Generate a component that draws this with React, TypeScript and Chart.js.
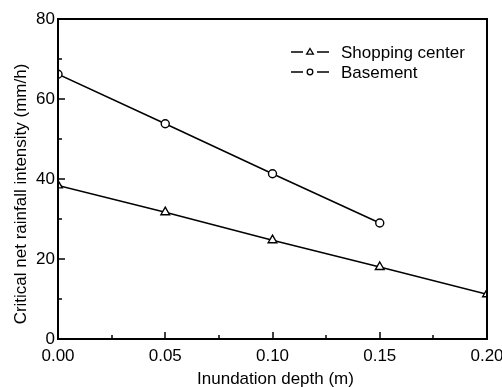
import React, { useEffect, useRef } from "react";
import { Chart, registerables } from "chart.js";

Chart.register(...registerables);

const depths = [0, 0.05, 0.1, 0.15, 0.2];
const shoppingCenter = [38.4, 31.7, 24.7, 18.0, 11.2];
const basement = [66.2, 53.8, 41.3, 29.0];
const seriesNames = ["Shopping center", "Basement"];
const xTitle = "Inundation depth (m)";
const yTitle = "Critical net rainfall intensity (mm/h)";

const FONT = "'Liberation Sans', Arial, sans-serif";

const framePlugin = {
  id: "frame",
  afterDraw(chart: any) {
    const { ctx, chartArea: a, scales } = chart;
    const x = scales.x;
    const y = scales.y;
    ctx.save();
    ctx.strokeStyle = "#000";
    ctx.lineWidth = 2;
    ctx.strokeRect(a.left, a.top, a.right - a.left, a.bottom - a.top);
    ctx.lineWidth = 1.5;
    for (let v = 0; v <= 80; v += 10) {
      const py = Math.round(y.getPixelForValue(v));
      const len = v % 20 === 0 ? 7 : 4;
      ctx.beginPath();
      ctx.moveTo(a.left, py);
      ctx.lineTo(a.left + len, py);
      ctx.stroke();
    }
    for (let i = 0; i <= 8; i++) {
      const v = i * 0.025;
      const px = Math.round(x.getPixelForValue(v));
      const len = i % 2 === 0 ? 7 : 4;
      ctx.beginPath();
      ctx.moveTo(px, a.bottom);
      ctx.lineTo(px, a.bottom - len);
      ctx.stroke();
    }
    // axis titles
    ctx.fillStyle = "#000";
    ctx.font = `17px ${FONT}`;
    ctx.textAlign = "center";
    ctx.textBaseline = "alphabetic";
    ctx.fillText(xTitle, (a.left + a.right) / 2 + 3, 384);
    ctx.save();
    ctx.translate(26, 194);
    ctx.rotate(-Math.PI / 2);
    ctx.fillText(yTitle, 0, 0);
    ctx.restore();
    // legend
    const cx = 310;
    const rows = [52, 72];
    chart.data.datasets.forEach((ds: any, i: number) => {
      const ly = rows[i];
      ctx.lineWidth = 1.5;
      ctx.beginPath();
      ctx.moveTo(cx - 19, ly);
      ctx.lineTo(cx - 7, ly);
      ctx.moveTo(cx + 7, ly);
      ctx.lineTo(cx + 19, ly);
      ctx.stroke();
      ctx.fillStyle = "#fff";
      ctx.lineWidth = 1.3;
      ctx.beginPath();
      if (ds.pointStyle === "triangle") {
        const r = 3.5;
        ctx.moveTo(cx, ly - r);
        ctx.lineTo(cx + r * 0.95, ly + r * 0.6);
        ctx.lineTo(cx - r * 0.95, ly + r * 0.6);
        ctx.closePath();
      } else {
        ctx.arc(cx, ly, 2.8, 0, Math.PI * 2);
      }
      ctx.fill();
      ctx.stroke();
      ctx.fillStyle = "#000";
      ctx.font = `17px ${FONT}`;
      ctx.textBaseline = "middle";
      ctx.textAlign = "left";
      ctx.fillText(ds.label, 341, ly + 1);
    });
    ctx.restore();
  },
};

export default function App() {
  const ref = useRef<HTMLCanvasElement>(null);
  useEffect(() => {
    if (!ref.current) return;
    const chart = new Chart(ref.current, {
      type: "line",
      data: {
        datasets: [
          {
            label: seriesNames[0],
            data: shoppingCenter.map((v, i) => ({ x: depths[i], y: v })),
            borderColor: "#000",
            backgroundColor: "#fff",
            borderWidth: 1.5,
            pointStyle: "triangle",
            pointRadius: 5,
            pointBorderWidth: 1.4,
          },
          {
            label: seriesNames[1],
            data: basement.map((v, i) => ({ x: depths[i], y: v })),
            borderColor: "#000",
            backgroundColor: "#fff",
            borderWidth: 1.5,
            pointStyle: "circle",
            pointRadius: 4,
            pointBorderWidth: 1.4,
          },
        ],
      },
      options: {
        responsive: false,
        animation: false,
        layout: { padding: { top: 19, right: 15, left: 0, bottom: 0 } },
        plugins: { legend: { display: false }, tooltip: { enabled: false } },
        scales: {
          x: {
            type: "linear",
            min: 0,
            max: 0.2,
            afterFit: (s: any) => {
              s.height = 48;
              s.paddingRight = 0;
              s.paddingLeft = 0;
            },
            ticks: {
              stepSize: 0.05,
              color: "#000",
              font: { family: FONT, size: 17 },
              padding: 7,
              maxRotation: 0,
              callback: (v: any) => Number(v).toFixed(2),
            },
            grid: { display: false, drawTicks: false },
            border: { display: false },
          },
          y: {
            min: 0,
            max: 80,
            afterFit: (s: any) => {
              s.width = 58;
              s.paddingTop = 0;
              s.paddingBottom = 0;
            },
            ticks: {
              stepSize: 20,
              color: "#000",
              font: { family: FONT, size: 17 },
              padding: 3,
            },
            grid: { display: false, drawTicks: false },
            border: { display: false },
          },
        },
      },
      plugins: [framePlugin],
    });
    return () => chart.destroy();
  }, []);
  return (
    <div style={{ position: "absolute", left: 0, top: 0, width: 502, height: 387, background: "#fff" }}>
      <canvas ref={ref} width={502} height={387} />
    </div>
  );
}
